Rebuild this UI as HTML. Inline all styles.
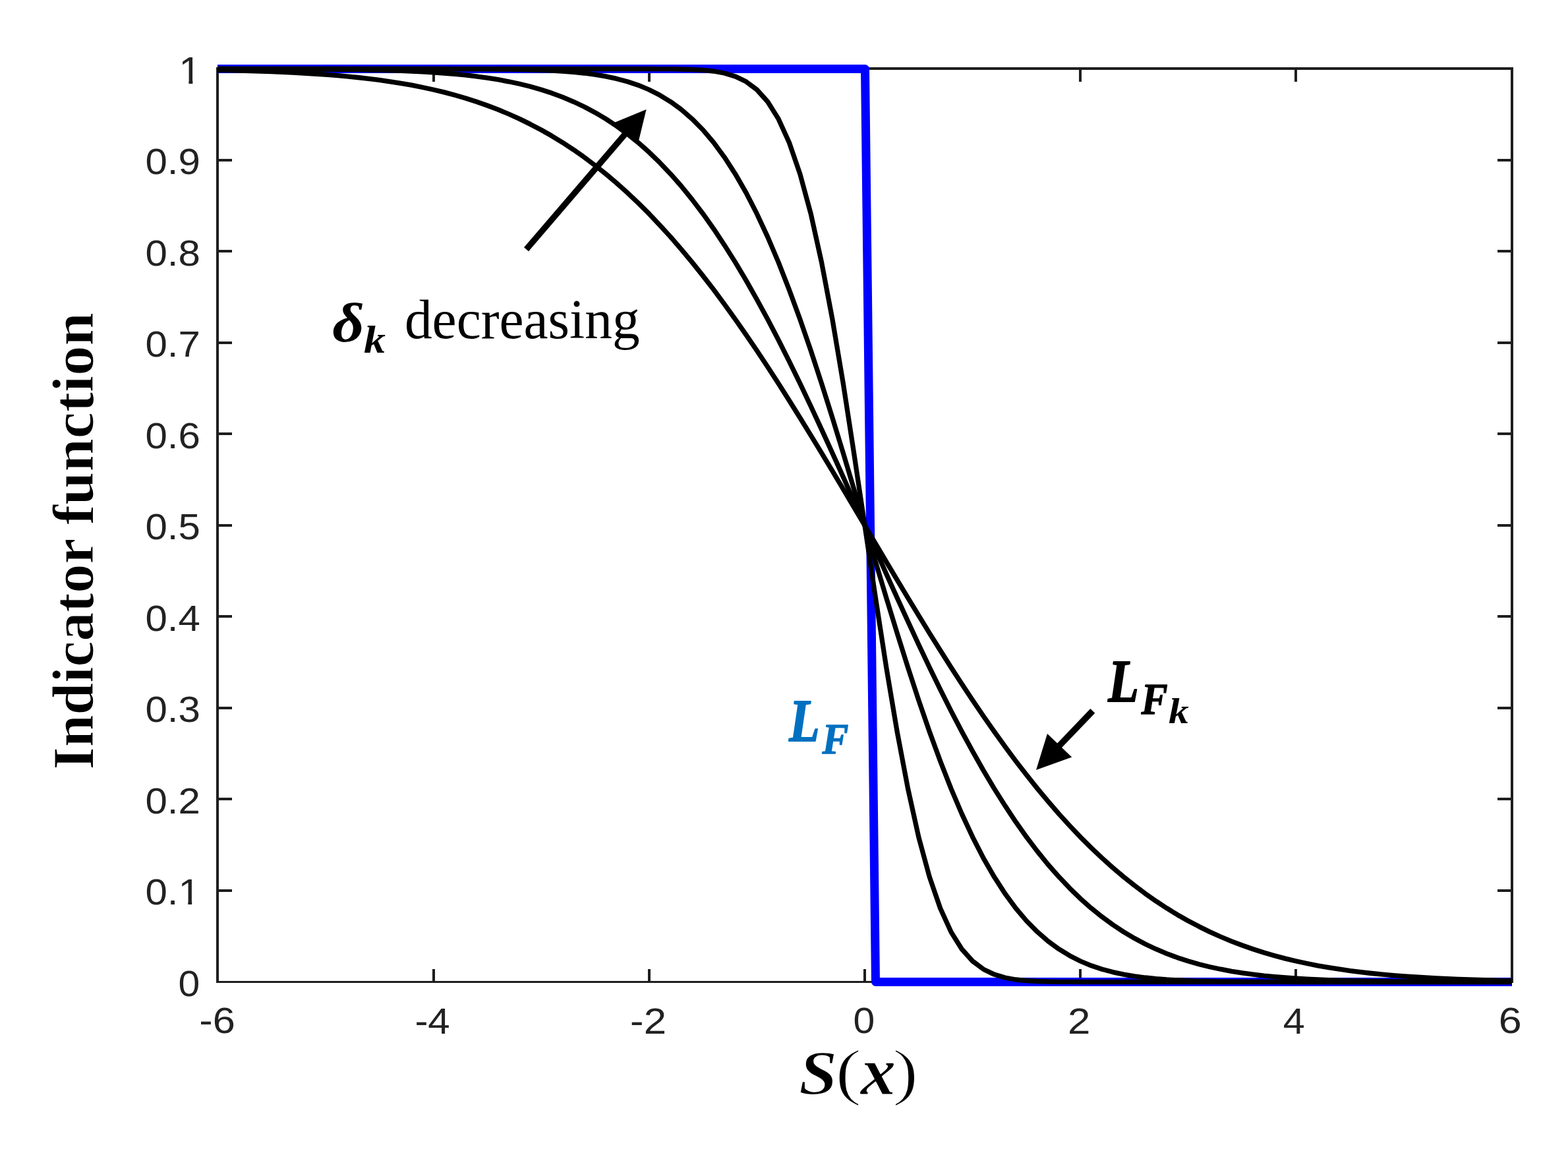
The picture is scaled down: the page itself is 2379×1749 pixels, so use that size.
<!DOCTYPE html>
<html lang="en"><head><meta charset="utf-8"><title>Indicator function</title>
<style>
html,body{margin:0;padding:0;background:#fff;}
body{width:2379px;height:1749px;overflow:hidden;}
svg{display:block;}
.tk{font-family:"Liberation Sans", sans-serif;fill:#222222;}
.se{font-family:"Liberation Serif", serif;fill:#000;}
</style></head><body>
<svg width="2379" height="1749" viewBox="0 0 2379 1749">
<rect x="0" y="0" width="2379" height="1749" fill="#fff"/>
<g fill="#1e1e1e" shape-rendering="crispEdges">
<rect x="328" y="102" width="1968" height="4"/>
<rect x="328" y="1488" width="1968" height="3"/>
<rect x="328" y="102" width="4" height="1389"/>
<rect x="2292" y="102" width="4" height="1389"/>
<rect x="656" y="1470" width="4" height="18"/>
<rect x="656" y="106" width="4" height="18"/>
<rect x="983" y="1470" width="4" height="18"/>
<rect x="983" y="106" width="4" height="18"/>
<rect x="1310" y="1470" width="4" height="18"/>
<rect x="1310" y="106" width="4" height="18"/>
<rect x="1637" y="1470" width="4" height="18"/>
<rect x="1637" y="106" width="4" height="18"/>
<rect x="1964" y="1470" width="4" height="18"/>
<rect x="1964" y="106" width="4" height="18"/>
<rect x="332" y="1349" width="20" height="4"/>
<rect x="2272" y="1349" width="20" height="4"/>
<rect x="332" y="1210" width="20" height="4"/>
<rect x="2272" y="1210" width="20" height="4"/>
<rect x="332" y="1072" width="20" height="4"/>
<rect x="2272" y="1072" width="20" height="4"/>
<rect x="332" y="933" width="20" height="4"/>
<rect x="2272" y="933" width="20" height="4"/>
<rect x="332" y="795" width="20" height="4"/>
<rect x="2272" y="795" width="20" height="4"/>
<rect x="332" y="656" width="20" height="4"/>
<rect x="2272" y="656" width="20" height="4"/>
<rect x="332" y="518" width="20" height="4"/>
<rect x="2272" y="518" width="20" height="4"/>
<rect x="332" y="379" width="20" height="4"/>
<rect x="2272" y="379" width="20" height="4"/>
<rect x="332" y="241" width="20" height="4"/>
<rect x="2272" y="241" width="20" height="4"/>
</g>
<text class="tk"><tspan x="302.24" y="1567.45" font-size="55.41" textLength="54.46" lengthAdjust="spacingAndGlyphs">-6</tspan></text>
<text class="tk"><tspan x="629.40" y="1567.90" font-size="55.13" textLength="53.35" lengthAdjust="spacingAndGlyphs">-4</tspan></text>
<text class="tk"><tspan x="956.12" y="1567.90" font-size="56.06" textLength="54.92" lengthAdjust="spacingAndGlyphs">-2</tspan></text>
<text class="tk"><tspan x="1294.55" y="1567.45" font-size="55.41" textLength="32.73" lengthAdjust="spacingAndGlyphs">0</tspan></text>
<text class="tk"><tspan x="1619.91" y="1568.00" font-size="56.20" textLength="34.35" lengthAdjust="spacingAndGlyphs">2</tspan></text>
<text class="tk"><tspan x="1946.66" y="1567.90" font-size="55.13" textLength="33.04" lengthAdjust="spacingAndGlyphs">4</tspan></text>
<text class="tk"><tspan x="2273.85" y="1567.45" font-size="55.41" textLength="34.99" lengthAdjust="spacingAndGlyphs">6</tspan></text>
<text class="tk"><tspan x="270.55" y="1511.35" font-size="55.12" textLength="32.73" lengthAdjust="spacingAndGlyphs">0</tspan></text>
<text class="tk" clip-path="url(#c01)"><tspan x="220.50" y="1372.45" font-size="55.12" textLength="83.36" lengthAdjust="spacingAndGlyphs">0.1</tspan></text>
<text class="tk"><tspan x="220.50" y="1233.95" font-size="55.12" textLength="83.36" lengthAdjust="spacingAndGlyphs">0.2</tspan></text>
<text class="tk"><tspan x="220.50" y="1095.45" font-size="55.12" textLength="83.36" lengthAdjust="spacingAndGlyphs">0.3</tspan></text>
<text class="tk"><tspan x="220.50" y="956.95" font-size="55.12" textLength="83.36" lengthAdjust="spacingAndGlyphs">0.4</tspan></text>
<text class="tk"><tspan x="220.50" y="818.45" font-size="55.12" textLength="83.36" lengthAdjust="spacingAndGlyphs">0.5</tspan></text>
<text class="tk"><tspan x="220.50" y="679.95" font-size="55.12" textLength="83.36" lengthAdjust="spacingAndGlyphs">0.6</tspan></text>
<text class="tk"><tspan x="220.50" y="541.45" font-size="55.12" textLength="83.36" lengthAdjust="spacingAndGlyphs">0.7</tspan></text>
<text class="tk"><tspan x="220.50" y="402.95" font-size="55.12" textLength="83.36" lengthAdjust="spacingAndGlyphs">0.8</tspan></text>
<text class="tk"><tspan x="220.50" y="264.45" font-size="55.12" textLength="83.36" lengthAdjust="spacingAndGlyphs">0.9</tspan></text>
<text class="tk" clip-path="url(#c1)"><tspan x="271.32" y="126.90" font-size="56.73" textLength="34.00" lengthAdjust="spacingAndGlyphs">1</tspan></text>
<defs><clipPath id="c01"><rect x="70.51" y="1314.00" width="202.40" height="80"/><rect x="70.51" y="1314.00" width="400" height="53.11"/><rect x="285.27" y="1366.81" width="5.92" height="6.63"/></clipPath><clipPath id="c1"><rect x="71.32" y="67.90" width="202.45" height="80"/><rect x="71.32" y="67.90" width="400" height="53.55"/><rect x="286.37" y="121.15" width="6.03" height="6.75"/></clipPath></defs>
<path d="M330 104.5 L1312.5 104.5 L1328.5 1489.5 L2294 1489.5" fill="none" stroke="#0000ff" stroke-width="13" stroke-linejoin="round"/>
<path d="M330.0 106.4 L346.4 106.7 L362.7 107.1 L379.1 107.5 L395.5 108.0 L411.8 108.6 L428.2 109.3 L444.6 110.1 L460.9 111.0 L477.3 112.0 L493.7 113.1 L510.0 114.4 L526.4 115.9 L542.8 117.5 L559.1 119.4 L575.5 121.4 L591.9 123.8 L608.2 126.4 L624.6 129.2 L641.0 132.5 L657.3 136.0 L673.7 139.9 L690.1 144.3 L706.4 149.0 L722.8 154.3 L739.2 160.0 L755.5 166.2 L771.9 173.0 L788.3 180.4 L804.6 188.4 L821.0 197.0 L837.4 206.3 L853.7 216.3 L870.1 227.1 L886.5 238.6 L902.8 250.8 L919.2 263.9 L935.6 277.7 L951.9 292.4 L968.3 307.9 L984.7 324.2 L1001.0 341.4 L1017.4 359.4 L1033.8 378.3 L1050.1 397.9 L1066.5 418.4 L1082.9 439.6 L1099.2 461.6 L1115.6 484.3 L1132.0 507.8 L1148.3 531.8 L1164.7 556.5 L1181.1 581.7 L1197.4 607.5 L1213.8 633.7 L1230.2 660.3 L1246.5 687.2 L1262.9 714.4 L1279.3 741.8 L1295.6 769.4 L1312.0 797.0 L1328.4 824.6 L1344.7 852.2 L1361.1 879.6 L1377.5 906.8 L1393.8 933.7 L1410.2 960.3 L1426.6 986.5 L1442.9 1012.3 L1459.3 1037.5 L1475.7 1062.2 L1492.0 1086.2 L1508.4 1109.7 L1524.8 1132.4 L1541.1 1154.4 L1557.5 1175.6 L1573.9 1196.1 L1590.2 1215.7 L1606.6 1234.6 L1623.0 1252.6 L1639.3 1269.8 L1655.7 1286.1 L1672.1 1301.6 L1688.4 1316.3 L1704.8 1330.1 L1721.2 1343.2 L1737.5 1355.4 L1753.9 1366.9 L1770.3 1377.7 L1786.6 1387.7 L1803.0 1397.0 L1819.4 1405.6 L1835.7 1413.6 L1852.1 1421.0 L1868.5 1427.8 L1884.8 1434.0 L1901.2 1439.7 L1917.6 1445.0 L1933.9 1449.7 L1950.3 1454.1 L1966.7 1458.0 L1983.0 1461.5 L1999.4 1464.8 L2015.8 1467.6 L2032.1 1470.2 L2048.5 1472.6 L2064.9 1474.6 L2081.2 1476.5 L2097.6 1478.1 L2114.0 1479.6 L2130.3 1480.9 L2146.7 1482.0 L2163.1 1483.0 L2179.4 1483.9 L2195.8 1484.7 L2212.2 1485.4 L2228.5 1486.0 L2244.9 1486.5 L2261.3 1486.9 L2277.6 1487.3 L2294.0 1487.6" fill="none" stroke="#000" stroke-width="7.3" stroke-linejoin="round"/>
<path d="M330.0 104.5 L346.4 104.6 L362.7 104.6 L379.1 104.6 L395.5 104.6 L411.8 104.7 L428.2 104.7 L444.6 104.8 L460.9 104.9 L477.3 105.0 L493.7 105.1 L510.0 105.3 L526.4 105.5 L542.8 105.7 L559.1 106.0 L575.5 106.4 L591.9 106.8 L608.2 107.4 L624.6 108.0 L641.0 108.8 L657.3 109.8 L673.7 111.0 L690.1 112.3 L706.4 113.9 L722.8 115.9 L739.2 118.1 L755.5 120.7 L771.9 123.8 L788.3 127.3 L804.6 131.3 L821.0 136.0 L837.4 141.3 L853.7 147.4 L870.1 154.3 L886.5 162.0 L902.8 170.7 L919.2 180.4 L935.6 191.2 L951.9 203.2 L968.3 216.3 L984.7 230.8 L1001.0 246.7 L1017.4 263.9 L1033.8 282.5 L1050.1 302.6 L1066.5 324.2 L1082.9 347.3 L1099.2 371.9 L1115.6 397.9 L1132.0 425.4 L1148.3 454.2 L1164.7 484.3 L1181.1 515.7 L1197.4 548.2 L1213.8 581.7 L1230.2 616.2 L1246.5 651.4 L1262.9 687.2 L1279.3 723.5 L1295.6 760.2 L1312.0 797.0 L1328.4 833.8 L1344.7 870.5 L1361.1 906.8 L1377.5 942.6 L1393.8 977.8 L1410.2 1012.3 L1426.6 1045.8 L1442.9 1078.3 L1459.3 1109.7 L1475.7 1139.8 L1492.0 1168.6 L1508.4 1196.1 L1524.8 1222.1 L1541.1 1246.7 L1557.5 1269.8 L1573.9 1291.4 L1590.2 1311.5 L1606.6 1330.1 L1623.0 1347.3 L1639.3 1363.2 L1655.7 1377.7 L1672.1 1390.8 L1688.4 1402.8 L1704.8 1413.6 L1721.2 1423.3 L1737.5 1432.0 L1753.9 1439.7 L1770.3 1446.6 L1786.6 1452.7 L1803.0 1458.0 L1819.4 1462.7 L1835.7 1466.7 L1852.1 1470.2 L1868.5 1473.3 L1884.8 1475.9 L1901.2 1478.1 L1917.6 1480.1 L1933.9 1481.7 L1950.3 1483.0 L1966.7 1484.2 L1983.0 1485.2 L1999.4 1486.0 L2015.8 1486.6 L2032.1 1487.2 L2048.5 1487.6 L2064.9 1488.0 L2081.2 1488.3 L2097.6 1488.5 L2114.0 1488.7 L2130.3 1488.9 L2146.7 1489.0 L2163.1 1489.1 L2179.4 1489.2 L2195.8 1489.3 L2212.2 1489.3 L2228.5 1489.4 L2244.9 1489.4 L2261.3 1489.4 L2277.6 1489.4 L2294.0 1489.5" fill="none" stroke="#000" stroke-width="7.3" stroke-linejoin="round"/>
<path d="M330.0 104.5 L346.4 104.5 L362.7 104.5 L379.1 104.5 L395.5 104.5 L411.8 104.5 L428.2 104.5 L444.6 104.5 L460.9 104.5 L477.3 104.5 L493.7 104.5 L510.0 104.5 L526.4 104.5 L542.8 104.5 L559.1 104.5 L575.5 104.5 L591.9 104.5 L608.2 104.5 L624.6 104.5 L641.0 104.5 L657.3 104.5 L673.7 104.6 L690.1 104.6 L706.4 104.6 L722.8 104.7 L739.2 104.8 L755.5 105.0 L771.9 105.2 L788.3 105.5 L804.6 105.8 L821.0 106.4 L837.4 107.1 L853.7 108.0 L870.1 109.3 L886.5 111.0 L902.8 113.1 L919.2 115.9 L935.6 119.4 L951.9 123.8 L968.3 129.2 L984.7 136.0 L1001.0 144.3 L1017.4 154.3 L1033.8 166.2 L1050.1 180.4 L1066.5 197.0 L1082.9 216.3 L1099.2 238.6 L1115.6 263.9 L1132.0 292.4 L1148.3 324.2 L1164.7 359.4 L1181.1 397.9 L1197.4 439.6 L1213.8 484.3 L1230.2 531.8 L1246.5 581.7 L1262.9 633.7 L1279.3 687.2 L1295.6 741.8 L1312.0 797.0 L1328.4 852.2 L1344.7 906.8 L1361.1 960.3 L1377.5 1012.3 L1393.8 1062.2 L1410.2 1109.7 L1426.6 1154.4 L1442.9 1196.1 L1459.3 1234.6 L1475.7 1269.8 L1492.0 1301.6 L1508.4 1330.1 L1524.8 1355.4 L1541.1 1377.7 L1557.5 1397.0 L1573.9 1413.6 L1590.2 1427.8 L1606.6 1439.7 L1623.0 1449.7 L1639.3 1458.0 L1655.7 1464.8 L1672.1 1470.2 L1688.4 1474.6 L1704.8 1478.1 L1721.2 1480.9 L1737.5 1483.0 L1753.9 1484.7 L1770.3 1486.0 L1786.6 1486.9 L1803.0 1487.6 L1819.4 1488.2 L1835.7 1488.5 L1852.1 1488.8 L1868.5 1489.0 L1884.8 1489.2 L1901.2 1489.3 L1917.6 1489.4 L1933.9 1489.4 L1950.3 1489.4 L1966.7 1489.5 L1983.0 1489.5 L1999.4 1489.5 L2015.8 1489.5 L2032.1 1489.5 L2048.5 1489.5 L2064.9 1489.5 L2081.2 1489.5 L2097.6 1489.5 L2114.0 1489.5 L2130.3 1489.5 L2146.7 1489.5 L2163.1 1489.5 L2179.4 1489.5 L2195.8 1489.5 L2212.2 1489.5 L2228.5 1489.5 L2244.9 1489.5 L2261.3 1489.5 L2277.6 1489.5 L2294.0 1489.5" fill="none" stroke="#000" stroke-width="7.3" stroke-linejoin="round"/>
<path d="M330.0 104.5 L346.4 104.5 L362.7 104.5 L379.1 104.5 L395.5 104.5 L411.8 104.5 L428.2 104.5 L444.6 104.5 L460.9 104.5 L477.3 104.5 L493.7 104.5 L510.0 104.5 L526.4 104.5 L542.8 104.5 L559.1 104.5 L575.5 104.5 L591.9 104.5 L608.2 104.5 L624.6 104.5 L641.0 104.5 L657.3 104.5 L673.7 104.5 L690.1 104.5 L706.4 104.5 L722.8 104.5 L739.2 104.5 L755.5 104.5 L771.9 104.5 L788.3 104.5 L804.6 104.5 L821.0 104.5 L837.4 104.5 L853.7 104.5 L870.1 104.5 L886.5 104.5 L902.8 104.5 L919.2 104.5 L935.6 104.5 L951.9 104.5 L968.3 104.5 L984.7 104.5 L1001.0 104.6 L1017.4 104.7 L1033.8 105.0 L1050.1 105.5 L1066.5 106.4 L1082.9 108.0 L1099.2 111.0 L1115.6 115.9 L1132.0 123.8 L1148.3 136.0 L1164.7 154.3 L1181.1 180.4 L1197.4 216.3 L1213.8 263.9 L1230.2 324.2 L1246.5 397.9 L1262.9 484.3 L1279.3 581.7 L1295.6 687.2 L1312.0 797.0 L1328.4 906.8 L1344.7 1012.3 L1361.1 1109.7 L1377.5 1196.1 L1393.8 1269.8 L1410.2 1330.1 L1426.6 1377.7 L1442.9 1413.6 L1459.3 1439.7 L1475.7 1458.0 L1492.0 1470.2 L1508.4 1478.1 L1524.8 1483.0 L1541.1 1486.0 L1557.5 1487.6 L1573.9 1488.5 L1590.2 1489.0 L1606.6 1489.3 L1623.0 1489.4 L1639.3 1489.5 L1655.7 1489.5 L1672.1 1489.5 L1688.4 1489.5 L1704.8 1489.5 L1721.2 1489.5 L1737.5 1489.5 L1753.9 1489.5 L1770.3 1489.5 L1786.6 1489.5 L1803.0 1489.5 L1819.4 1489.5 L1835.7 1489.5 L1852.1 1489.5 L1868.5 1489.5 L1884.8 1489.5 L1901.2 1489.5 L1917.6 1489.5 L1933.9 1489.5 L1950.3 1489.5 L1966.7 1489.5 L1983.0 1489.5 L1999.4 1489.5 L2015.8 1489.5 L2032.1 1489.5 L2048.5 1489.5 L2064.9 1489.5 L2081.2 1489.5 L2097.6 1489.5 L2114.0 1489.5 L2130.3 1489.5 L2146.7 1489.5 L2163.1 1489.5 L2179.4 1489.5 L2195.8 1489.5 L2212.2 1489.5 L2228.5 1489.5 L2244.9 1489.5 L2261.3 1489.5 L2277.6 1489.5 L2294.0 1489.5" fill="none" stroke="#000" stroke-width="7.3" stroke-linejoin="round"/>
<path d="M798.5 378.2 L950.7 200.8" stroke="#000" stroke-width="9.2" fill="none"/><path d="M980.6 165.9 L967.9 218.3 L930.8 186.4 Z" fill="#000"/>
<path d="M1657.8 1078.4 L1606.2 1132.2" stroke="#000" stroke-width="9.6" fill="none"/><path d="M1572.0 1168.0 L1589.0 1113.0 L1626.2 1148.6 Z" fill="#000"/>
<text class="se"><tspan x="504.38" y="518.15" font-size="84.95" textLength="48.54" lengthAdjust="spacingAndGlyphs" font-weight="bold" font-style="italic">δ</tspan><tspan x="551.91" y="535.10" font-size="59.14" textLength="32.88" lengthAdjust="spacingAndGlyphs" font-weight="bold" font-style="italic">k</tspan> <tspan x="613.88" y="512.78" font-size="84.73" textLength="356.81" lengthAdjust="spacingAndGlyphs">decreasing</tspan></text>
<text class="se" style="fill:#0070c0"><tspan x="1197.33" y="1123.90" font-size="90.37" textLength="46.39" lengthAdjust="spacingAndGlyphs" font-weight="bold" font-style="italic" fill="#0070c0" stroke="#0070c0" stroke-width="1.81" stroke-linejoin="round">L</tspan><tspan x="1247.40" y="1143.34" font-size="66.37" textLength="39.92" lengthAdjust="spacingAndGlyphs" font-weight="bold" font-style="italic" fill="#0070c0" stroke="#0070c0" stroke-width="1.33" stroke-linejoin="round">F</tspan></text>
<text class="se"><tspan x="1681.14" y="1064.10" font-size="90.37" textLength="46.70" lengthAdjust="spacingAndGlyphs" font-weight="bold" font-style="italic" stroke="#000" stroke-width="1.81" stroke-linejoin="round">L</tspan><tspan x="1731.40" y="1083.33" font-size="66.81" textLength="40.12" lengthAdjust="spacingAndGlyphs" font-weight="bold" font-style="italic" stroke="#000" stroke-width="1.34" stroke-linejoin="round">F</tspan><tspan x="1772.98" y="1097.00" font-size="54.82" textLength="30.68" lengthAdjust="spacingAndGlyphs" font-weight="bold" font-style="italic">k</tspan></text>
<text class="se"><tspan x="1212.01" y="1659.66" font-size="96.12" textLength="58.35" lengthAdjust="spacingAndGlyphs" font-weight="bold" font-style="italic" stroke="#fff" stroke-width="1.44" stroke-linejoin="round">S</tspan><tspan x="1267.30" y="1657.58" font-size="94.48" textLength="39.96" lengthAdjust="spacingAndGlyphs" stroke="#fff" stroke-width="1.89" stroke-linejoin="round">(</tspan><tspan x="1305.80" y="1660.42" font-size="103.02" textLength="53.30" lengthAdjust="spacingAndGlyphs" font-weight="bold" font-style="italic" stroke="#fff" stroke-width="1.03" stroke-linejoin="round">x</tspan><tspan x="1354.07" y="1657.58" font-size="94.48" textLength="39.40" lengthAdjust="spacingAndGlyphs" stroke="#fff" stroke-width="1.89" stroke-linejoin="round">)</tspan></text>
<text class="se" transform="translate(141.1 1164.0) rotate(-90)"><tspan x="-3.51" y="0" font-size="89.00" textLength="350.82" lengthAdjust="spacingAndGlyphs" font-weight="bold" stroke="#fff" stroke-width="1.07" stroke-linejoin="round">Indicator</tspan> <tspan x="367.97" y="0" font-size="89.00" textLength="321.85" lengthAdjust="spacingAndGlyphs" font-weight="bold" stroke="#fff" stroke-width="1.07" stroke-linejoin="round">function</tspan></text>
</svg></body></html>
